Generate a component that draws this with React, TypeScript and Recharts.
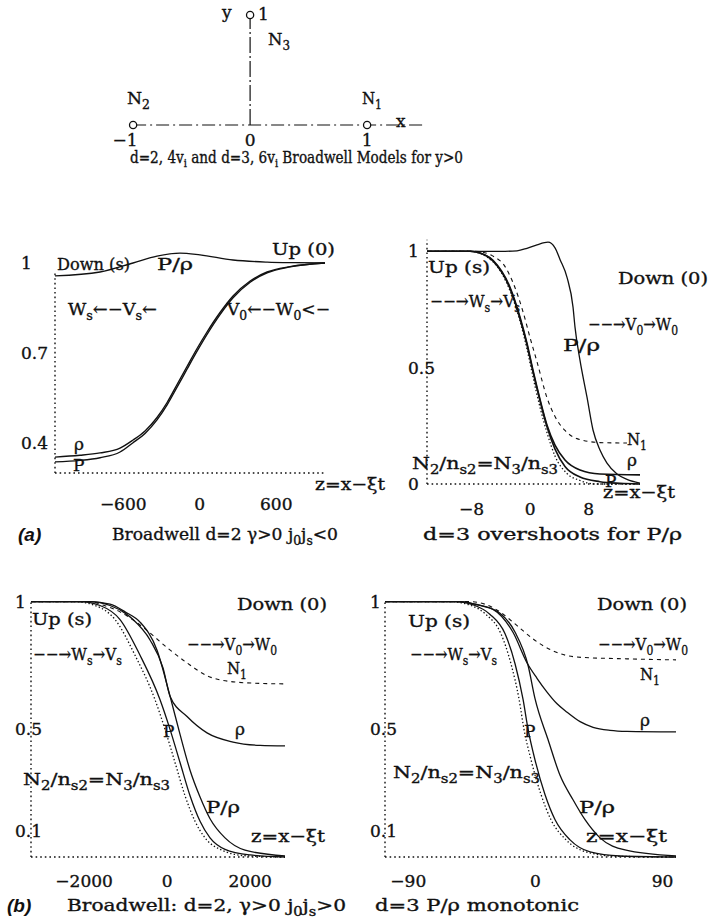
import React from 'react';
import { LineChart, Line, XAxis, YAxis, ReferenceLine, ComposedChart, Scatter } from 'recharts';

type Pt = [number, number];

// lattice sketch: velocity nodes of the Broadwell models
const nodeXs = [-1, 1, 0];
const nodeYs = [0, 0, 1];
const latticeTicks = [-1, 0, 1];
const xLine: Pt[] = [[-1, 0], [1.5, 0]];
const yLine: Pt[] = [[0, 0], [0, 1]];

// (a) left: d=2, gamma>0, j0 js<0
const aTicksX = [-600, 0, 600];
const aTicksY = [0.4, 0.7, 1];
const aPRho: Pt[] = [[-1135, 0.957], [-782, 0.97], [-523, 1.0], [-335, 1.023], [-155, 1.033], [2, 1.027], [261, 1.01], [528, 1.003], [750, 1.001], [982, 1.0]];
const aRho: Pt[] = [[-1135, 0.353], [-939, 0.359], [-782, 0.367], [-625, 0.383], [-523, 0.41], [-429, 0.44], [-335, 0.485], [-256, 0.535], [-178, 0.595], [-100, 0.655], [-21, 0.715], [57, 0.77], [159, 0.835], [261, 0.89], [395, 0.94], [528, 0.97], [708, 0.988], [982, 1.0]];
const aP: Pt[] = [[-1135, 0.337], [-939, 0.342], [-782, 0.351], [-625, 0.37], [-523, 0.401], [-429, 0.432], [-335, 0.477], [-256, 0.527], [-178, 0.586], [-100, 0.646], [-21, 0.706], [57, 0.762], [159, 0.828], [261, 0.884], [395, 0.936], [528, 0.967], [708, 0.987], [982, 1.0]];

// (a) right: d=3, overshoot of P/rho
const bTicksX = [-8, 0, 8];
const bTicksY = [0, 0.5, 1];
const bPRho: Pt[] = [[-14.1, 1], [-3.44, 1], [-1.8, 1.002], [-0.44, 1.013], [0.93, 1.028], [2.43, 1.039], [3.39, 1.015], [4.07, 0.965], [5.03, 0.888], [5.85, 0.76], [6.12, 0.674], [6.8, 0.532], [7.76, 0.373], [8.58, 0.232], [9.53, 0.146], [10.49, 0.09], [11.86, 0.043], [13.22, 0.02], [15, 0.004]];
const bRho: Pt[] = [[-14.1, 1], [-8.22, 1], [-6.86, 0.993], [-5.08, 0.961], [-2.76, 0.845], [-1.39, 0.717], [-0.44, 0.605], [0.38, 0.489], [0.93, 0.416], [2.3, 0.253], [3.39, 0.167], [4.75, 0.103], [6.8, 0.06], [9.53, 0.043], [15, 0.039]];
const bP: Pt[] = [[-14.1, 1], [-8.22, 1], [-6.86, 0.993], [-5.08, 0.958], [-2.76, 0.84], [-1.39, 0.71], [-0.44, 0.598], [0.38, 0.482], [0.93, 0.41], [2.3, 0.245], [3.39, 0.15], [4.75, 0.075], [6.8, 0.03], [9.53, 0.01], [12.26, 0.003], [15, 0]];
const bN1: Pt[] = [[-14.1, 1], [-7.54, 1], [-4.13, 0.96], [-2.35, 0.865], [-0.98, 0.74], [-0.03, 0.63], [0.93, 0.525], [2.3, 0.37], [3.39, 0.29], [4.75, 0.23], [6.39, 0.195], [9.53, 0.178], [13.22, 0.176]];
const bN2: Pt[] = [[-14.1, 1], [-8.22, 1], [-5.08, 0.955], [-2.76, 0.83], [-1.39, 0.7], [-0.44, 0.58], [0.38, 0.46], [1.34, 0.33], [2.3, 0.22], [3.39, 0.12], [5.03, 0.045], [6.8, 0.015], [8.85, 0], [15, 0]];

// (b) left: d=2, gamma>0, j0 js>0
const cTicksX = [-2000, 0, 2000];
const cTicksY = [0.1, 0.5, 1];
const cPRho: Pt[] = [[-3280, 1], [-1858, 1], [-1376, 0.99], [-1014, 0.96], [-653, 0.92], [-243, 0.81], [70, 0.63], [311, 0.48], [552, 0.34], [793, 0.235], [1034, 0.15], [1395, 0.075], [1877, 0.027], [2840, 0.004]];
const cRho: Pt[] = [[-3280, 1], [-1858, 1], [-1376, 0.985], [-1014, 0.955], [-822, 0.93], [-412, 0.85], [-99, 0.74], [70, 0.63], [480, 0.55], [961, 0.486], [1588, 0.45], [2239, 0.437], [2840, 0.435]];
const cP: Pt[] = [[-3280, 1], [-2099, 1], [-1617, 0.985], [-1135, 0.93], [-653, 0.79], [-171, 0.616], [70, 0.5], [311, 0.37], [552, 0.24], [793, 0.14], [1034, 0.075], [1395, 0.03], [1998, 0.008], [2840, 0]];
const cN2: Pt[] = [[-3280, 1], [-2219, 1], [-1737, 0.985], [-1255, 0.93], [-773, 0.79], [-292, 0.616], [-51, 0.5], [190, 0.37], [431, 0.24], [672, 0.14], [913, 0.075], [1275, 0.03], [1877, 0.005], [2840, 0]];
const cN1: Pt[] = [[-3280, 1], [-1858, 1], [-1617, 0.99], [-1135, 0.96], [-581, 0.9], [-2, 0.82], [480, 0.76], [961, 0.71], [1588, 0.686], [2239, 0.68], [2840, 0.678]];

// (b) right: d=3, monotonic P/rho
const dTicksX = [-90, 0, 90];
const dTicksY = [0.1, 0.5, 1];
const dN1: Pt[] = [[-106.5, 1], [-46.3, 1], [-35.7, 0.99], [-25.1, 0.96], [-13, 0.906], [-1.7, 0.854], [12.5, 0.807], [29.4, 0.783], [64.8, 0.776], [99.5, 0.772]];
const dRho: Pt[] = [[-106.5, 1], [-53.4, 1], [-42.8, 0.99], [-30, 0.97], [-15.9, 0.88], [-5.9, 0.76], [1.1, 0.7], [8.2, 0.646], [15.3, 0.6], [22.4, 0.567], [31.6, 0.53], [40.8, 0.508], [52.8, 0.496], [64.8, 0.492], [99.5, 0.49]];
const dPRho: Pt[] = [[-106.5, 1], [-53.4, 1], [-39.2, 0.985], [-25.1, 0.955], [-14.4, 0.88], [-5.2, 0.75], [-0.3, 0.62], [8.9, 0.46], [17.4, 0.32], [26.6, 0.224], [35.1, 0.146], [45.7, 0.075], [63.4, 0.028], [99.5, 0.004]];
const dP: Pt[] = [[-106.5, 1], [-57, 1], [-42.8, 0.985], [-32.1, 0.95], [-21.5, 0.874], [-14.4, 0.756], [-8.8, 0.618], [-5.2, 0.5], [-0.3, 0.38], [6.8, 0.244], [13.9, 0.146], [24.5, 0.067], [38.7, 0.02], [59.9, 0.004], [99.5, 0]];
const dN2: Pt[] = [[-106.5, 1], [-59.8, 1], [-45.6, 0.985], [-35, 0.95], [-24.4, 0.874], [-17.3, 0.756], [-11.6, 0.618], [-8.1, 0.5], [-3.1, 0.38], [4, 0.244], [11, 0.146], [21.7, 0.067], [35.8, 0.02], [57.1, 0.003], [99.5, 0]];

const FONT = '"DejaVu Serif", "Liberation Serif", serif';
const SANS = '"Liberation Sans", Arial, sans-serif';
const INK = '#111';
const DOTS = '1.6 3';
const DASH = '4 4';
const FINE = '1.4 2.2';
// slight stroke so the print reads as heavy as a scanned page
const HEAVY = { stroke: INK, strokeWidth: 0.35 };

const minus = (v: number) => String(v).replace('-', '\u2212');

// "_x" or "_{xy}" becomes a subscript
function rich(s: string, size: number) {
  const sh = size * 0.28;
  const out: React.ReactNode[] = [];
  const re = /_\{([^}]*)\}|_(.)/g;
  let last = 0;
  let low = false;
  let k = 0;
  let m: RegExpExecArray | null;
  while ((m = re.exec(s))) {
    if (m.index > last) {
      out.push(<tspan key={k++} dy={low ? -sh : 0}>{s.slice(last, m.index)}</tspan>);
      low = false;
    }
    out.push(<tspan key={k++} dy={low ? 0 : sh} fontSize={size * 0.72}>{m[1] ?? m[2]}</tspan>);
    low = true;
    last = re.lastIndex;
  }
  if (last < s.length) out.push(<tspan key={k++} dy={low ? -sh : 0}>{s.slice(last)}</tspan>);
  return out;
}

function T({ x, y, w, s = 17, t }: { x: number; y: number; w?: number; s?: number; t: string }) {
  return (
    <text x={x} y={y} fontSize={s} fontFamily={FONT} fill={INK} {...HEAVY}
      textLength={w} lengthAdjust={w ? 'spacingAndGlyphs' : undefined}>
      {rich(t, s)}
    </text>
  );
}

type Series = { d: Pt[]; dash?: string; sw?: number };

type PanelProps = {
  left: number; top: number; w: number; h: number;
  xDomain: [number, number]; yDomain: [number, number];
  xTicks: number[]; yTicks: number[];
  yLabelOff: number; xLabelDy: number; axisTop: number;
  series: Series[];
};

const YW = 60;
const XH = 44;
const PAD = 16;

function Panel(p: PanelProps) {
  return (
    <div style={{ position: 'absolute', left: p.left - YW, top: p.top - PAD }}>
      <LineChart width={p.w + YW} height={p.h + XH + PAD} margin={{ top: PAD, right: 0, bottom: 0, left: 0 }}>
        <XAxis type="number" dataKey="z" domain={p.xDomain} ticks={p.xTicks} interval={0} height={XH}
          tickLine={false} tickSize={0} tickMargin={0}
          axisLine={{ stroke: INK, strokeDasharray: DOTS, strokeWidth: 1.4 }}
          tick={(t: any) => (
            <text x={t.x} y={t.y + p.xLabelDy} textAnchor="middle" fontSize={17} fontFamily={FONT} fill={INK} {...HEAVY}>
              {minus(t.payload.value)}
            </text>
          )} />
        <YAxis type="number" domain={p.yDomain} ticks={p.yTicks} interval={0} width={YW}
          axisLine={false} tickLine={false} tickSize={0} tickMargin={0}
          tick={(t: any) => (
            <text x={t.x - p.yLabelOff} y={t.y + 6} textAnchor="start" fontSize={17} fontFamily={FONT} fill={INK} {...HEAVY}>
              {t.payload.value}
            </text>
          )} />
        <ReferenceLine segment={[{ x: p.xDomain[0], y: p.yDomain[0] }, { x: p.xDomain[0], y: p.axisTop }]}
          stroke={INK} strokeWidth={1.4} strokeDasharray={DOTS} ifOverflow="visible" />
        {p.series.map((s, i) => (
          <Line key={i} data={s.d.map(([z, v]) => ({ z, v }))} dataKey="v" type="monotone"
            stroke={INK} strokeWidth={s.sw ?? 1.3} strokeDasharray={s.dash} dot={false}
            isAnimationActive={false} />
        ))}
      </LineChart>
    </div>
  );
}

function Lattice() {
  const nodes = nodeXs.map((x, i) => ({ x, y: nodeYs[i] }));
  return (
    <div style={{ position: 'absolute', left: 98, top: 4 }}>
      <ComposedChart width={351} height={151} margin={{ top: 0, right: 0, bottom: 0, left: 0 }}>
        <XAxis type="number" dataKey="x" domain={[-1.3, 1.7]} ticks={latticeTicks} interval={0} height={30}
          axisLine={false} tickLine={false} tickSize={0} tickMargin={0}
          tick={(t: any) => (
            <text x={t.x + (t.payload.value < 0 ? -8 : 0)} y={t.y + 21} textAnchor="middle" fontSize={17} fontFamily={FONT} fill={INK} {...HEAVY}>
              {minus(t.payload.value)}
            </text>
          )} />
        <YAxis type="number" dataKey="y" domain={[0, 1.1]} hide width={0} />
        <Line data={xLine.map(([x, y]) => ({ x, y }))} dataKey="y" type="linear" stroke={INK} strokeWidth={1.2}
          strokeDasharray="13 4 2 4" dot={false} isAnimationActive={false} />
        <Line data={yLine.map(([x, y]) => ({ x, y }))} dataKey="y" type="linear" stroke={INK} strokeWidth={1.2}
          strokeDasharray="16 3 2 3" dot={false} isAnimationActive={false} />
        <Scatter data={nodes} isAnimationActive={false}
          shape={(s: any) => <circle cx={s.cx} cy={s.cy} r={3.6} fill="#fff" stroke={INK} strokeWidth={1.3} />} />
      </ComposedChart>
    </div>
  );
}

export default function App() {
  return (
    <div style={{ position: 'absolute', left: 0, top: 0, width: 709, height: 920, background: '#fff', overflow: 'hidden' }}>
      <Lattice />

      <Panel left={55} top={245} w={270} h={228} xDomain={[-1135, 982]} yDomain={[0.3, 1.06]}
        xTicks={aTicksX} yTicks={aTicksY} yLabelOff={34} xLabelDy={37} axisTop={0.975}
        series={[{ d: aPRho }, { d: aRho, sw: 1.4 }, { d: aP, sw: 1.4 }]} />

      <Panel left={427} top={235} w={213} h={249} xDomain={[-14.1, 15]} yDomain={[0, 1.07]}
        xTicks={bTicksX} yTicks={bTicksY} yLabelOff={19} xLabelDy={31} axisTop={1.05}
        series={[{ d: bN1, dash: DASH, sw: 1.1 }, { d: bN2, dash: FINE, sw: 1.3 }, { d: bPRho }, { d: bRho, sw: 1.6 }, { d: bP, sw: 1.6 }]} />

      <Panel left={31} top={594} w={254} h={263} xDomain={[-3280, 2840]} yDomain={[0, 1.03]}
        xTicks={cTicksX} yTicks={cTicksY} yLabelOff={16} xLabelDy={30} axisTop={1}
        series={[{ d: cN1, dash: DASH, sw: 1.1 }, { d: cN2, dash: FINE, sw: 1.3 }, { d: cPRho }, { d: cRho }, { d: cP }]} />

      <Panel left={385} top={594} w={291} h={263} xDomain={[-106.5, 99.5]} yDomain={[0, 1.03]}
        xTicks={dTicksX} yTicks={dTicksY} yLabelOff={15} xLabelDy={30} axisTop={1}
        series={[{ d: dN1, dash: DASH, sw: 1.1 }, { d: dN2, dash: FINE, sw: 1.3 }, { d: dPRho }, { d: dRho }, { d: dP }]} />

      <svg width={709} height={920} style={{ position: 'absolute', left: 0, top: 0, pointerEvents: 'none' }}>
        {/* lattice labels */}
        <T x={222} y={18} t="y" />
        <T x={258} y={20} t="1" />
        <T x={268} y={45} w={22} t="N_3" />
        <T x={127} y={104} w={23} t="N_2" />
        <T x={362} y={104} w={20} t="N_1" />
        <T x={396} y={127} t="x" />
        <T x={130} y={163} w={333} s={16} t="d=2, 4v_i and d=3, 6v_i Broadwell Models for y>0" />

        {/* (a) left */}
        <T x={57} y={270} w={73} t="Down (s)" />
        <T x={157} y={270} w={36} t="P/ρ" />
        <T x={272} y={255} w={63} t="Up (0)" />
        <T x={68} y={315} w={89} t="W_s←−V_s←" />
        <T x={227} y={315} w={103} t="V_0←−W_0<−" />
        <T x={74} y={450} t="ρ" />
        <T x={73} y={471} t="P" />
        <T x={315} y={490} w={70} t="z=x−ξt" />
        <text x={18} y={541} fontSize={19} fontFamily={SANS} fontWeight="bold" fontStyle="italic" fill={INK}>(a)</text>
        <T x={112} y={540} w={226} t="Broadwell d=2 γ>0 j_0j_s<0" />

        {/* (a) right */}
        <T x={428} y={273} w={62} t="Up (s)" />
        <T x={618} y={284} w={90} t="Down (0)" />
        <T x={430} y={307} w={90} t="−−→W_s→V_s" />
        <T x={588} y={330} w={90} t="−−→V_0→W_0" />
        <T x={563} y={351} w={37} t="P/ρ" />
        <T x={627} y={445} w={20} t="N_1" />
        <T x={412} y={469} w={146} t="N_2/n_{s2}=N_3/n_{s3}" />
        <T x={627} y={466} t="ρ" />
        <T x={605} y={487} t="P" />
        <T x={603} y={498} w={72} t="z=x−ξt" />
        <T x={423} y={540} w={259} t="d=3  overshoots for P/ρ" />

        {/* (b) left */}
        <T x={32} y={625} w={60} t="Up (s)" />
        <T x={237} y={610} w={90} t="Down (0)" />
        <T x={33} y={660} w={89} t="−−→W_s→V_s" />
        <T x={187} y={650} w={90} t="−−→V_0→W_0" />
        <T x={227} y={674} w={20} t="N_1" />
        <T x={235} y={735} t="ρ" />
        <T x={163} y={737} t="P" />
        <T x={23} y={785} w={147} t="N_2/n_{s2}=N_3/n_{s3}" />
        <T x={206} y={813} w={34} t="P/ρ" />
        <T x={251} y={842} w={74} t="z=x−ξt" />
        <text x={7} y={912} fontSize={19} fontFamily={SANS} fontWeight="bold" fontStyle="italic" fill={INK}>(b)</text>
        <T x={67} y={911} w={279} t="Broadwell: d=2, γ>0 j_0j_s>0" />

        {/* (b) right */}
        <T x={408} y={627} w={62} t="Up (s)" />
        <T x={597} y={610} w={90} t="Down (0)" />
        <T x={410} y={660} w={87} t="−−→W_s→V_s" />
        <T x={598} y={650} w={90} t="−−→V_0→W_0" />
        <T x={640} y={680} w={20} t="N_1" />
        <T x={640} y={726} t="ρ" />
        <T x={524} y={737} t="P" />
        <T x={393} y={778} w={147} t="N_2/n_{s2}=N_3/n_{s3}" />
        <T x={579} y={813} w={36} t="P/ρ" />
        <T x={586} y={842} w={81} t="z=x−ξt" />
        <T x={375} y={911} w={204} t="d=3  P/ρ monotonic" />
      </svg>
    </div>
  );
}
